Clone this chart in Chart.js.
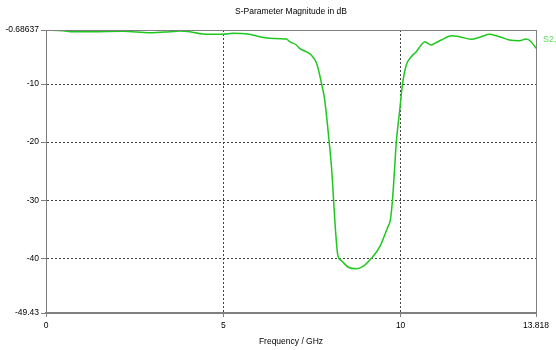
<!DOCTYPE html>
<html>
<head>
<meta charset="utf-8">
<script src="https://cdn.jsdelivr.net/npm/chart.js@4/dist/chart.umd.min.js"></script>
<style>
  html, body { margin: 0; padding: 0; background: #fff; }
  #wrap { width: 556px; height: 350px; }
</style>
</head>
<body>
<div id="wrap"><canvas id="sparChart"></canvas></div>
<script>
// data
const freq = [0, 0.48, 0.76, 1.32, 2.17, 2.93, 3.49, 3.77, 4.06, 4.42, 4.99, 5.27, 5.69, 6.03, 6.31,
  6.78, 6.87, 7.06, 7.15, 7.48, 7.63, 7.77, 7.86, 7.98, 8.05, 8.11, 8.17, 8.23, 8.33, 8.54,
  8.75, 8.94, 9.17, 9.41, 9.64, 9.71, 9.77, 9.81, 9.88, 9.97, 10.05, 10.16, 10.30, 10.44, 10.58,
  10.68, 10.86, 10.96, 11.15, 11.43, 11.66, 11.99, 12.27, 12.51, 12.79, 13.07, 13.35, 13.54, 13.68, 13.818];
const s21 = [-0.69, -0.81, -0.98, -0.98, -0.91, -1.15, -0.98, -0.86, -0.98, -1.38, -1.43, -1.26, -1.38, -1.84, -2.12,
  -2.24, -2.70, -3.27, -3.84, -5.00, -6.43, -9.88, -12.76, -19.65, -24.25, -30.0, -35.7, -39.5, -40.4, -41.6,
  -41.8, -41.4, -40.05, -38.05, -34.6, -33.45, -30.0, -26.55, -19.9, -14.77, -10.17, -6.72, -5.29, -4.43, -3.27,
  -2.70, -3.27, -2.98, -2.41, -1.67, -1.84, -2.29, -1.84, -1.43, -1.84, -2.41, -2.53, -2.24, -2.70, -3.84];
const xTicks = [0, 5, 10, 13.818];
const yTicks = [-0.68637, -10, -20, -30, -40, -49.43];
const chartTitle = 'S-Parameter Magnitude in dB';
const seriesName = 'S2,1';

const FONT = 'Liberation Sans, Arial, sans-serif';
const lineGreen = '#1ec81e';

const points = freq.map((f, i) => ({ x: f, y: s21[i] }));

// title, frame and the clipped legend label
const extras = {
  id: 'extras',
  afterDraw(chart) {
    const { ctx, chartArea: a } = chart;
    ctx.save();
    ctx.strokeStyle = '#808080';
    ctx.lineWidth = 1;
    ctx.strokeRect(a.left + 0.5, a.top + 0.5, a.right - a.left, a.bottom - a.top);
    ctx.font = '8.5px ' + FONT;
    ctx.fillStyle = '#000';
    ctx.textAlign = 'center';
    ctx.textBaseline = 'middle';
    ctx.fillText(chartTitle, (a.left + a.right) / 2, 12);
    ctx.fillStyle = '#5fdc5f';
    ctx.textAlign = 'left';
    ctx.font = '9px ' + FONT;
    ctx.fillText(seriesName, a.right + 7, 40);
    ctx.restore();
  }
};

const edgeTransparent = (ticks) => (ctx) =>
  (ctx.index === 0 || ctx.index === ticks.length - 1) ? 'rgba(0,0,0,0)' : '#444';

new Chart(document.getElementById('sparChart'), {
  type: 'line',
  data: {
    datasets: [{
      label: seriesName,
      data: points,
      borderColor: lineGreen,
      borderWidth: 1.5,
      pointRadius: 0,
      cubicInterpolationMode: 'monotone',
      fill: false
    }]
  },
  options: {
    responsive: true,
    maintainAspectRatio: false,
    animation: false,
    layout: { padding: { top: 30, right: 20, left: 0, bottom: 0 } },
    plugins: {
      legend: { display: false },
      title: { display: false },
      tooltip: { enabled: false }
    },
    scales: {
      x: {
        type: 'linear',
        min: 0,
        max: 13.818,
        afterBuildTicks: (scale) => { scale.ticks = xTicks.map(v => ({ value: v })); },
        afterFit: (scale) => { scale.height = 37; },
        ticks: {
          autoSkip: false,
          maxRotation: 0,
          padding: 4,
          color: '#000',
          font: { family: FONT, size: 8.5 },
          callback: (v) => String(v)
        },
        grid: {
          color: edgeTransparent(xTicks),
          lineWidth: 1,
          tickLength: 4,
          tickColor: '#808080'
        },
        border: { display: true, color: '#808080', width: 2, dash: [2, 2] },
        title: {
          display: true,
          text: 'Frequency / GHz',
          color: '#000',
          font: { family: FONT, size: 8.5 },
          padding: { top: 0, bottom: 3 }
        }
      },
      y: {
        type: 'linear',
        min: -49.43,
        max: -0.68637,
        afterBuildTicks: (scale) => { scale.ticks = yTicks.map(v => ({ value: v })); },
        afterFit: (scale) => { scale.width = 46; },
        ticks: {
          autoSkip: false,
          padding: 2,
          color: '#000',
          font: { family: FONT, size: 8.5 },
          callback: (v) => String(v)
        },
        grid: {
          color: edgeTransparent(yTicks),
          lineWidth: 1,
          tickLength: 5,
          tickColor: '#808080'
        },
        border: { display: true, color: '#808080', width: 1, dash: [2, 2] }
      }
    }
  },
  plugins: [extras]
});
</script>
</body>
</html>
